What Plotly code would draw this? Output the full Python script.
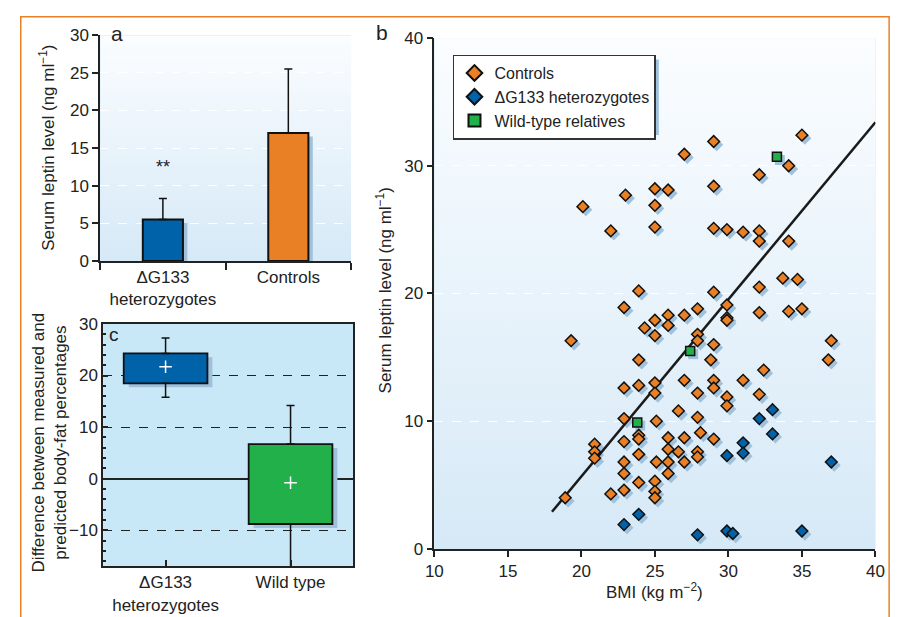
import base64
import plotly.graph_objects as go

# ---------------- data ----------------
# panel a: serum leptin (mean, upper SD)
a_groups = ["ΔG133<br>heterozygotes", "Controls"]
a_mean = [5.5, 17.0]
a_err = [2.8, 8.5]

# panel c: difference measured - predicted body fat (box summary)
c_groups = ["ΔG133<br>heterozygotes", "Wild type"]
c_q1 = [18.5, -8.8]
c_q3 = [24.3, 6.7]
c_lo = [15.8, -17.5]
c_hi = [27.3, 14.2]
c_mean = [21.7, -0.8]

# panel b: BMI vs serum leptin
ctrl_bmi = [18.9, 19.3, 20.1, 20.9, 20.9, 20.9, 22.0, 22.0, 23.0,
            22.9, 22.9, 22.9, 22.9, 22.9, 22.9, 22.9,
            23.9, 23.9, 23.9, 23.9, 23.9, 23.9, 23.9,
            24.3,
            25.0, 25.0, 25.0, 25.0, 25.0, 25.0, 25.0, 25.0, 25.0, 25.0,
            25.1, 25.1,
            25.9, 25.9, 25.9, 25.9, 25.9, 25.9, 25.9,
            26.6, 26.6,
            27.0, 27.0, 27.0, 27.0, 27.0,
            27.9, 27.9, 27.9, 27.9, 27.9, 27.9, 27.9,
            28.1, 28.8,
            29.0, 29.0, 29.0, 29.0, 29.0, 29.0, 29.0, 29.0,
            29.9, 29.9, 29.9, 29.9, 29.9, 29.9,
            31.0, 31.0,
            32.1, 32.1, 32.1, 32.1, 32.1, 32.1,
            32.4, 33.7,
            34.1, 34.1, 34.1,
            34.7, 35.0, 35.0, 36.8, 37.0]
ctrl_lep = [4.0, 16.3, 26.8, 8.2, 7.6, 7.1, 24.9, 4.3, 27.7,
            18.9, 12.6, 10.2, 8.4, 6.8, 5.9, 4.6,
            20.2, 14.8, 12.8, 8.9, 8.6, 7.4, 5.2,
            17.3,
            28.2, 26.9, 25.2, 17.9, 16.7, 13.0, 12.2, 5.3, 4.5, 4.0,
            10.0, 6.8,
            28.1, 18.3, 17.5, 8.7, 7.8, 6.8, 5.9,
            10.8, 7.6,
            30.9, 18.3, 13.2, 8.7, 6.8,
            18.8, 16.8, 16.3, 12.2, 10.3, 7.6, 7.2,
            9.1, 14.8,
            31.9, 28.4, 25.1, 20.1, 16.0, 13.2, 12.6, 8.6,
            25.0, 19.1, 18.1, 17.9, 11.9, 11.2,
            24.8, 13.2,
            29.3, 24.9, 24.1, 20.5, 18.5, 12.1,
            14.0, 21.2,
            30.0, 24.1, 18.6,
            21.1, 32.4, 18.8, 14.8, 16.3]

het_bmi = [23.9, 22.9, 27.9, 29.9, 30.3, 35.0, 33.0, 32.1, 33.0, 31.0, 31.0, 29.9, 37.0]
het_lep = [2.7, 1.9, 1.1, 1.4, 1.2, 1.4, 10.9, 10.2, 9.0, 8.3, 7.5, 7.3, 6.8]

wt_bmi = [23.8, 27.4, 33.3]
wt_lep = [9.9, 15.5, 30.7]

fit_bmi = [18.0, 40.0]
fit_lep = [2.9, 33.4]

# ---------------- styles ----------------
W, H = 905, 617
FONT = "Liberation Sans, Arial, Helvetica, sans-serif"
TXT = "#222222"
BLUE = "#0062a9"
ORANGE = "#ea8026"
GREEN = "#22b04b"
SHADOW = "#9fc1dc"
C_BG = "#c8e8f8"


def px(x):
    return x / W


def py(y):
    return 1 - y / H


def grad_uri(top, bottom):
    svg = ('<svg xmlns="http://www.w3.org/2000/svg" width="10" height="100" '
           'preserveAspectRatio="none"><defs><linearGradient id="g" x1="0" y1="0" '
           'x2="0" y2="1"><stop offset="0" stop-color="%s"/><stop offset="1" '
           'stop-color="%s"/></linearGradient></defs><rect width="10" height="100" '
           'fill="url(#g)"/></svg>' % (top, bottom))
    return "data:image/svg+xml;base64," + base64.b64encode(svg.encode()).decode()


fig = go.Figure()

# ---------- panel a ----------
ax = [0, 1]
fig.add_trace(go.Bar(x=[v + 0.035 for v in ax], y=[m - 0.45 for m in a_mean], width=0.32,
                     marker=dict(color=SHADOW, line=dict(width=0)), showlegend=False,
                     hoverinfo="skip", xaxis="x", yaxis="y"))
fig.add_trace(go.Bar(x=ax, y=a_mean, width=0.32,
                     marker=dict(color=[BLUE, ORANGE], line=dict(color="#111", width=2)),
                     error_y=dict(type="data", array=a_err, arrayminus=[0, 0], symmetric=False,
                                  color="#111", thickness=1.5, width=4),
                     showlegend=False, xaxis="x", yaxis="y"))

# ---------- panel c ----------
cx = [0, 1]
c_h = [q3 - q1 for q1, q3 in zip(c_q1, c_q3)]
fig.add_trace(go.Bar(x=[v + 0.04 for v in cx], y=c_h, base=[q - 0.75 for q in c_q1], width=0.67,
                     marker=dict(color=SHADOW, line=dict(width=0)), showlegend=False,
                     hoverinfo="skip", xaxis="x2", yaxis="y2"))
fig.add_trace(go.Scatter(x=cx, y=c_q3, mode="markers", marker=dict(size=1, opacity=0),
                         error_y=dict(type="data", array=[h - q for h, q in zip(c_hi, c_q3)],
                                      arrayminus=[0, 0], symmetric=False, color="#111",
                                      thickness=1.5, width=4),
                         showlegend=False, hoverinfo="skip", xaxis="x2", yaxis="y2"))
fig.add_trace(go.Scatter(x=cx, y=c_q1, mode="markers", marker=dict(size=1, opacity=0),
                         error_y=dict(type="data", array=[0, 0],
                                      arrayminus=[q - l for q, l in zip(c_q1, c_lo)], symmetric=False,
                                      color="#111", thickness=1.5, width=4),
                         showlegend=False, hoverinfo="skip", xaxis="x2", yaxis="y2"))
fig.add_trace(go.Bar(x=cx, y=c_h, base=c_q1, width=0.67,
                     marker=dict(color=[BLUE, GREEN], line=dict(color="#111", width=1.8)),
                     showlegend=False, xaxis="x2", yaxis="y2"))
fig.add_trace(go.Scatter(x=cx, y=c_mean, mode="markers",
                         marker=dict(symbol="cross-thin", size=9, line=dict(color="white", width=1.5)),
                         showlegend=False, xaxis="x2", yaxis="y2"))

# ---------- panel b ----------
dx, dy = 0.2, 0.25
for bx, by, sym, sz in [(ctrl_bmi, ctrl_lep, "diamond", 9), (het_bmi, het_lep, "diamond", 9),
                        (wt_bmi, wt_lep, "square", 9)]:
    fig.add_trace(go.Scatter(x=[v + dx for v in bx], y=[v - dy for v in by], mode="markers",
                             marker=dict(symbol=sym, size=sz + 1, color=SHADOW, line=dict(width=0)),
                             showlegend=False, hoverinfo="skip", xaxis="x3", yaxis="y3"))
fig.add_trace(go.Scatter(x=fit_bmi, y=fit_lep, mode="lines", line=dict(color="#1a1a1a", width=2.5),
                         showlegend=False, xaxis="x3", yaxis="y3"))
fig.add_trace(go.Scatter(x=ctrl_bmi, y=ctrl_lep, mode="markers", name="Controls",
                         marker=dict(symbol="diamond", size=9, color=ORANGE,
                                     line=dict(color="#111", width=1.5)), xaxis="x3", yaxis="y3"))
fig.add_trace(go.Scatter(x=het_bmi, y=het_lep, mode="markers", name="ΔG133 heterozygotes",
                         marker=dict(symbol="diamond", size=9, color=BLUE,
                                     line=dict(color="#111", width=1.5)), xaxis="x3", yaxis="y3"))
fig.add_trace(go.Scatter(x=wt_bmi, y=wt_lep, mode="markers", name="Wild-type relatives",
                         marker=dict(symbol="square", size=9, color=GREEN,
                                     line=dict(color="#111", width=1.5)), xaxis="x3", yaxis="y3"))

tickfont = dict(family=FONT, size=17, color=TXT)

fig.update_layout(
    autosize=True, margin=dict(l=0, r=0, t=0, b=0),
    paper_bgcolor="white", plot_bgcolor=C_BG,
    font=dict(family=FONT, size=16, color=TXT),
    barmode="overlay", showlegend=True,
    legend=dict(x=px(453), y=py(47), xanchor="left", yanchor="top",
                bgcolor="white", bordercolor="#333", borderwidth=1.5,
                font=dict(family=FONT, size=16, color=TXT), tracegroupgap=0,
                itemsizing="constant"),
    # panel a
    xaxis=dict(domain=[px(93), px(349)], range=[-0.5, 1.5], tickvals=ax, ticktext=a_groups,
               ticks="", showgrid=False, zeroline=False, showline=True, linecolor="#222",
               linewidth=1.5, tickfont=tickfont,
               minor=dict(tick0=0.5, dtick=1, ticks="outside", ticklen=7, tickwidth=1.5,
                          tickcolor="#222", showgrid=False)),
    yaxis=dict(domain=[py(260), py(27)], range=[0, 30], tickvals=[0, 5, 10, 15, 20, 25, 30],
               ticks="outside", ticklen=6, tickwidth=1.5, tickcolor="#222",
               showline=True, linecolor="#222", linewidth=1.5, zeroline=False,
               showgrid=True, gridcolor="white", griddash="dash", gridwidth=1,
               tickfont=tickfont),
    # panel c
    xaxis2=dict(domain=[px(96), px(351)], range=[-0.5, 1.5], tickvals=cx, ticktext=c_groups,
                ticks="inside", ticklen=7, tickwidth=1.5, tickcolor="#222",
                showgrid=False, zeroline=False, showline=True, mirror=True,
                linecolor="#222", linewidth=1.5, tickfont=tickfont, anchor="y2"),
    yaxis2=dict(domain=[py(575), py(325)], range=[-17, 30], tickvals=[-10, 0, 10, 20, 30],
                ticktext=["−10", "0", "10", "20", "30"],
                ticks="inside", ticklen=5, tickwidth=1.5, tickcolor="#222",
                minor=dict(dtick=2, ticks="inside", ticklen=3, tickcolor="#222", showgrid=False),
                showline=True, mirror=True, linecolor="#222", linewidth=1.5,
                zeroline=True, zerolinecolor="#222", zerolinewidth=1.5,
                showgrid=True, gridcolor="#222", griddash="dash", gridwidth=1.3,
                tickfont=tickfont, anchor="x2"),
    # panel b
    xaxis3=dict(domain=[px(434), px(884)], range=[10, 40], tickvals=[10, 15, 20, 25, 30, 35, 40],
                ticks="outside", ticklen=6, tickwidth=1.5, tickcolor="#222",
                showline=True, linecolor="#222", linewidth=1.5, zeroline=False, showgrid=False,
                tickfont=tickfont, anchor="y3"),
    yaxis3=dict(domain=[py(557), py(30)], range=[0, 40], tickvals=[0, 10, 20, 30, 40],
                ticks="outside", ticklen=6, tickwidth=1.5, tickcolor="#222",
                showline=True, linecolor="#222", linewidth=1.5, zeroline=False,
                showgrid=True, gridcolor="white", griddash="dash", gridwidth=1,
                tickfont=tickfont, anchor="x3"),
)

fig.update_layout(images=[
    dict(source=grad_uri("#fbfdff", "#d6e9f7"), xref="x", yref="y", x=-0.5, y=30,
         sizex=2, sizey=30, sizing="stretch", xanchor="left", yanchor="top", layer="below"),
    dict(source=grad_uri("#fbfdff", "#d6e9f7"), xref="x3", yref="y3", x=10, y=40,
         sizex=30, sizey=40, sizing="stretch", xanchor="left", yanchor="top", layer="below"),
])

shapes = [
    # orange outer frame
    dict(type="rect", xref="paper", yref="paper", x0=px(12), x1=px(898), y0=-0.05, y1=py(8),
         line=dict(color="#ea8026", width=1.5), fillcolor="rgba(0,0,0,0)", layer="above"),
    # legend shadow
    dict(type="rect", xref="paper", yref="paper", x0=px(458), x1=px(663), y0=py(130), y1=py(52),
         line=dict(width=0), fillcolor=SHADOW, layer="above"),
]
fig.update_layout(shapes=shapes)


def note(text, x, y, size=17, angle=0):
    return dict(text=text, x=px(x), y=py(y), xref="paper", yref="paper", showarrow=False,
                xanchor="center", yanchor="middle", textangle=angle,
                font=dict(family=FONT, size=size, color=TXT))


ann = [
    note("a", 110, 25, 21),
    note("b", 381, 24, 21),
    note("c", 107, 336, 19),
    dict(text="**", x=0, y=a_mean[0] + a_err[0] + 4.2, xref="x", yref="y", showarrow=False,
         xanchor="center", yanchor="middle", font=dict(family=FONT, size=18, color=TXT)),
    note("Serum leptin level (ng ml<sup>−1</sup>)", 38, 143, 17, -90),
    note("Serum leptin level (ng ml<sup>−1</sup>)", 383, 290, 17, -90),
    note("Difference between measured and<br>predicted body-fat percentages", 41, 447, 17, -90),
    note("BMI (kg m<sup>−2</sup>)", 659, 601, 17),
]
fig.update_layout(annotations=ann)

post = ("document.documentElement.style.margin='0';"
        "document.documentElement.style.overflow='hidden';"
        "document.body.style.margin='0';document.body.style.overflow='hidden';"
        "var gd=document.getElementById('{plot_id}');"
        "gd.style.width='100vw';gd.style.height='100vh';"
        "Plotly.Plots.resize(gd);")

fig.write_html("out.html", config={"displayModeBar": False, "responsive": True},
               default_width="100vw", default_height="100vh", post_script=post)
